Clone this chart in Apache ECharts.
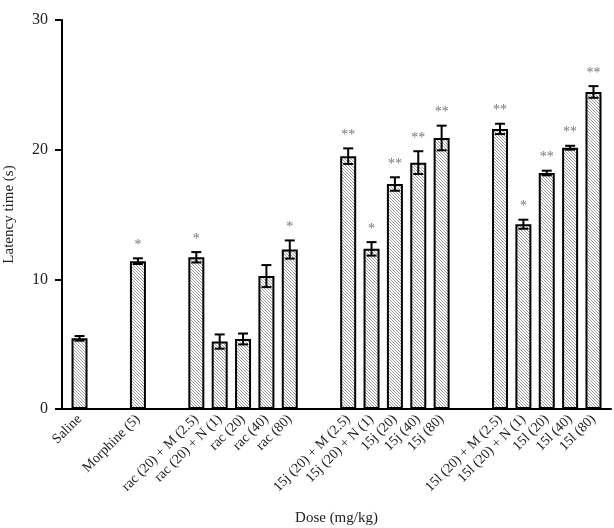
<!DOCTYPE html>
<html><head><meta charset="utf-8">
<script src="https://cdn.jsdelivr.net/npm/echarts@6/dist/echarts.min.js"></script>
<style>html,body{margin:0;padding:0;background:#fff}#c{width:614px;height:528px}</style>
</head><body><div id="c"></div>
<script>
const labels = ['Saline','Morphine (5)','rac (20) + M (2.5)','rac (20) + N (1)','rac (20)','rac (40)','rac (80)','15j (20) + M (2.5)','15j (20) + N (1)','15j (20)','15j (40)','15j (80)','15l (20) + M (2.5)','15l (20) + N (1)','15l (20)','15l (40)','15l (80)'];
const means = [5.45, 11.4, 11.7, 5.2, 5.4, 10.25, 12.3, 19.5, 12.35, 17.35, 19.0, 20.9, 21.6, 14.25, 18.2, 20.15, 24.45];
const sems  = [0.18, 0.22, 0.4, 0.55, 0.42, 0.85, 0.7, 0.6, 0.52, 0.52, 0.88, 0.95, 0.4, 0.35, 0.18, 0.15, 0.45];
const sig   = ['', '*', '*', '', '', '', '*', '**', '*', '**', '**', '**', '**', '*', '**', '**', '**'];
// position of each bar on a half-width category grid (blank slots make the gaps)
const slots = [1, 6, 11, 13, 15, 17, 19, 24, 26, 28, 30, 32, 37, 39, 41, 43, 45];
const nSlots = 47;
const yTicks = [0, 10, 20, 30];

const cats = new Array(nSlots).fill('');
const barData = new Array(nSlots).fill(null);
const errData = [];
slots.forEach((s, i) => { cats[s] = labels[i]; barData[s] = means[i]; errData.push([s, means[i], sems[i], sig[i]]); });

// hatch pattern (thin gray diagonal lines)
const pc = document.createElement('canvas');
pc.width = 3; pc.height = 3;
const g = pc.getContext('2d');
g.fillStyle = '#fff'; g.fillRect(0, 0, 3, 3);
g.fillStyle = '#9c9c9c';
for (let i = 0; i < 3; i++) g.fillRect(i, i, 1, 1);

const font = '"Liberation Serif","Times New Roman",serif';
const chart = echarts.init(document.getElementById('c'), null, {renderer: 'canvas'});
chart.setOption({
  animation: false,
  grid: {left: 62, right: 3, top: 20, bottom: 119, containLabel: false, outerBoundsMode: 'none'},
  xAxis: {
    type: 'category', data: cats,
    name: 'Dose (mg/kg)', nameLocation: 'middle', nameGap: 102,
    nameTextStyle: {fontFamily: font, fontSize: 15, color: '#222'},
    axisLine: {lineStyle: {color: '#000', width: 2}},
    axisTick: {show: false},
    axisLabel: {interval: 0, rotate: 45, fontFamily: font, fontSize: 14, color: '#222', margin: 8}
  },
  yAxis: {
    type: 'value', min: 0, max: 30, interval: 10,
    name: 'Latency time (s)', nameLocation: 'middle', nameGap: 45,
    nameTextStyle: {fontFamily: font, fontSize: 15, color: '#222'},
    axisLine: {show: true, lineStyle: {color: '#000', width: 2}},
    axisTick: {show: true, length: 7, lineStyle: {color: '#000', width: 2}},
    splitLine: {show: false},
    axisLabel: {fontFamily: font, fontSize: 16, color: '#222', margin: 14,
      formatter: v => yTicks.includes(v) ? String(v) : ''}
  },
  series: [
    {type: 'bar', data: barData, barWidth: 16, barGap: '-100%',
     itemStyle: {color: {image: pc, repetition: 'repeat'}, borderColor: '#000', borderWidth: 2}},
    {type: 'custom', data: errData, z: 10,
     renderItem: (params, api) => {
       const x = api.value(0), m = api.value(1), e = api.value(2);
       const s = errData[params.dataIndex][3];
       const top = api.coord([x, m + e]), bot = api.coord([x, m - e]);
       const cx = top[0], hw = 5;
       const st = {stroke: '#000', lineWidth: 2};
       const children = [
         {type: 'line', shape: {x1: cx, y1: top[1], x2: cx, y2: bot[1]}, style: st},
         {type: 'line', shape: {x1: cx - hw, y1: top[1], x2: cx + hw, y2: top[1]}, style: st},
         {type: 'line', shape: {x1: cx - hw, y1: bot[1], x2: cx + hw, y2: bot[1]}, style: st}
       ];
       if (s) children.push({type: 'text', style: {text: s, x: cx, y: top[1] - 6, textAlign: 'center', textVerticalAlign: 'bottom', fill: '#777', font: '14px ' + font}});
       return {type: 'group', children};
     }}
  ]
});
</script></body></html>
